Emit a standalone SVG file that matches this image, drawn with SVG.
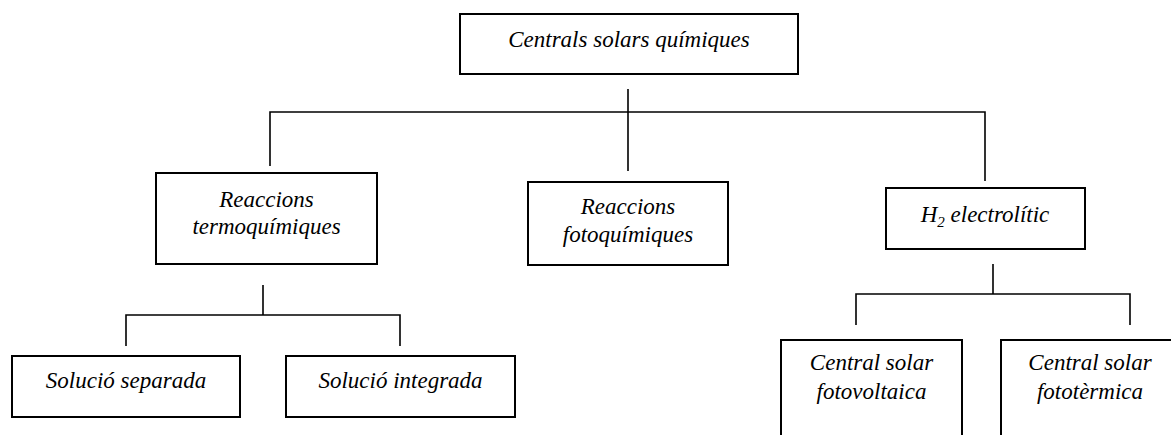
<svg xmlns="http://www.w3.org/2000/svg" width="1171" height="435" viewBox="0 0 1171 435">
<style>
.box{fill:#fff;stroke:#000;stroke-width:2}
.ln{fill:none;stroke:#000;stroke-width:1.6}
</style>
<rect width="1171" height="435" fill="#fff"/>
<g id="connectors">
<path class="ln" d="M628 89V171M270 166V112H985V181"/>
<path class="ln" d="M263 285V315M126 346V315H400V346"/>
<path class="ln" d="M993 264V294M856 325V294H1130V325"/>
</g>
<g font-family="Liberation Serif, Times New Roman, DejaVu Serif, serif" font-style="italic" font-size="23" fill="#000" text-anchor="middle">
<g id="n-centrals">
<rect class="box" x="460" y="14" width="338" height="60"/>
<text x="629" y="47">Centrals solars químiques</text>
</g>
<g id="n-termo">
<rect class="box" x="156" y="173" width="221" height="91"/>
<text x="266.5" y="207">Reaccions</text>
<text x="266.5" y="234">termoquímiques</text>
</g>
<g id="n-foto">
<rect class="box" x="528" y="182" width="200" height="83"/>
<text x="628" y="214">Reaccions</text>
<text x="628" y="242">fotoquímiques</text>
</g>
<g id="n-h2">
<rect class="box" x="886" y="188" width="199" height="61"/>
<text x="985" y="222">H<tspan font-size="15" dy="5">2</tspan><tspan dy="-5"> electrolític</tspan></text>
</g>
<g id="n-separada">
<rect class="box" x="12" y="356" width="228" height="61"/>
<text x="126" y="388">Solució separada</text>
</g>
<g id="n-integrada">
<rect class="box" x="286" y="356" width="229" height="61"/>
<text x="400.5" y="388">Solució integrada</text>
</g>
<g id="n-fotovoltaica">
<rect class="box" x="781" y="340" width="181" height="120"/>
<text x="871.5" y="370">Central solar</text>
<text x="871.5" y="399">fotovoltaica</text>
</g>
<g id="n-fototermica">
<rect class="box" x="1001" y="340" width="180" height="120"/>
<text x="1090" y="370">Central solar</text>
<text x="1090" y="399">fototèrmica</text>
</g>
</g>
</svg>
